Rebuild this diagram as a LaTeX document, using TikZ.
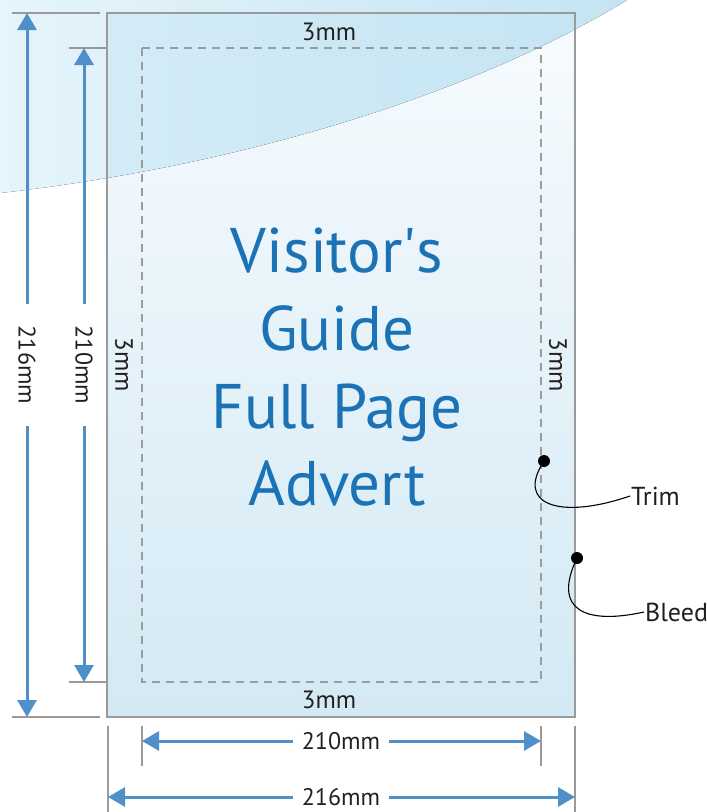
\documentclass[tikz,border=0pt]{standalone}
\usepackage{fontspec}
\setmainfont{PT Sans}
\usetikzlibrary{arrows.meta}
\definecolor{dimblue}{HTML}{5090C8}
\definecolor{titleblue}{HTML}{1B73B6}
\definecolor{edgegray}{HTML}{9A9A9A}
\definecolor{dashgray}{HTML}{9C9C9C}
\definecolor{ink}{HTML}{231F20}
\definecolor{swooshL}{HTML}{E6F4FB}
\definecolor{swooshR}{HTML}{C4E4F3}
\definecolor{swooshIn}{HTML}{D6EDF8}
\definecolor{pageTop}{HTML}{F7FBFE}
\definecolor{pageBot}{HTML}{D3E9F4}
\begin{document}
\begin{tikzpicture}[x=1pt,y=-1pt,
  dimarrow/.style={draw=dimblue, line width=3pt, -{Triangle[width=19pt,length=17pt]}},
  tickline/.style={draw=edgegray, line width=2pt},
  dimlabel/.style={font=\fontsize{24}{28}\selectfont, text=ink, inner ysep=1pt},
  vlabel/.style={dimlabel, rotate=-90, inner xsep=22pt},
  hlabel/.style={dimlabel, inner xsep=9pt},
  marginlabel/.style={font=\fontsize{25}{28}\selectfont, text=ink, inner sep=1pt},
  titleline/.style={font=\fontsize{63}{78}\selectfont, text=titleblue, anchor=base},
  callout/.style={draw=black, line width=1.1pt},
  dot/.style={circle, fill=black, inner sep=0pt, minimum size=12pt},
  calltext/.style={font=\fontsize{26}{28}\selectfont, text=ink, anchor=west, inner sep=1pt}
]
\useasboundingbox (0,0) rectangle (707,812);

% background swoosh
\fill[left color=swooshL, right color=swooshR]
  (0,0) -- (0,193) .. controls (250,165) and (480,90) .. (627,0) -- cycle;

% page (bleed area)
\fill[top color=pageTop, bottom color=pageBot] (107,13) rectangle (575,717);
\begin{scope}
  \clip (107,13) rectangle (575,717);
  \fill[left color=swooshIn, right color=swooshR]
    (0,0) -- (0,193) .. controls (250,165) and (480,90) .. (627,0) -- cycle;
\end{scope}
\draw[edgegray, line width=2pt] (107,13) rectangle (575,717);

% trim line
\draw[dashgray, line width=2.4pt, dash pattern=on 8pt off 6pt] (142,48) rectangle (541,682);

% title
\node[titleline] (t1) at (337,272) {Visitor\textquotesingle s};
\node[titleline] (t2) at (337,350) {Guide};
\node[titleline] (t3) at (337,428) {Full Page};
\node[titleline] (t4) at (337,505) {Advert};

% margin labels
\node[marginlabel] (mtop) at (329,32) {3mm};
\node[marginlabel] (mbot) at (329,700) {3mm};
\node[marginlabel, rotate=-90] (mleft) at (124,365) {3mm};
\node[marginlabel, rotate=-90] (mright) at (558,365) {3mm};

% left dimension ticks
\draw[tickline] (12,13) -- (100,13);
\draw[tickline] (12,717) -- (100,717);
\draw[tickline] (69,48) -- (108,48);
\draw[tickline] (69,682) -- (108,682);

% left dimension arrows
\coordinate (v216a) at (27,13);
\coordinate (v216b) at (27,717);
\coordinate (v210a) at (84,48);
\coordinate (v210b) at (84,682);
\node[vlabel] (v216) at (27,365) {216mm};
\node[vlabel] (v210) at (84,365) {210mm};
\draw[dimarrow] (v216) -- (v216a);
\draw[dimarrow] (v216) -- (v216b);
\draw[dimarrow] (v210) -- (v210a);
\draw[dimarrow] (v210) -- (v210b);

% bottom dimension ticks
\draw[tickline] (108,726) -- (108,812);
\draw[tickline] (575,726) -- (575,812);
\draw[tickline] (142,726) -- (142,766);
\draw[tickline] (541,726) -- (541,766);

% bottom dimension arrows
\coordinate (h210a) at (142,741);
\coordinate (h210b) at (541,741);
\coordinate (h216a) at (108,797);
\coordinate (h216b) at (575,797);
\node[hlabel] (h210) at (341,741) {210mm};
\node[hlabel] (h216) at (341,797) {216mm};
\draw[dimarrow] (h210) -- (h210a);
\draw[dimarrow] (h210) -- (h210b);
\draw[dimarrow] (h216) -- (h216a);
\draw[dimarrow] (h216) -- (h216b);

% callouts
\node[dot] (trimdot) at (544,461) {};
\node[dot] (bleeddot) at (577,558) {};
\node[calltext] (trim) at (630,496) {Trim};
\node[calltext] (bleed) at (644,612) {Bleed};
\draw[callout] (trimdot.center) .. controls (515,505) and (560,520) .. (trim.west);
\draw[callout] (bleeddot.center) .. controls (552,610) and (585,625) .. (bleed.west);
\end{tikzpicture}
\end{document}
